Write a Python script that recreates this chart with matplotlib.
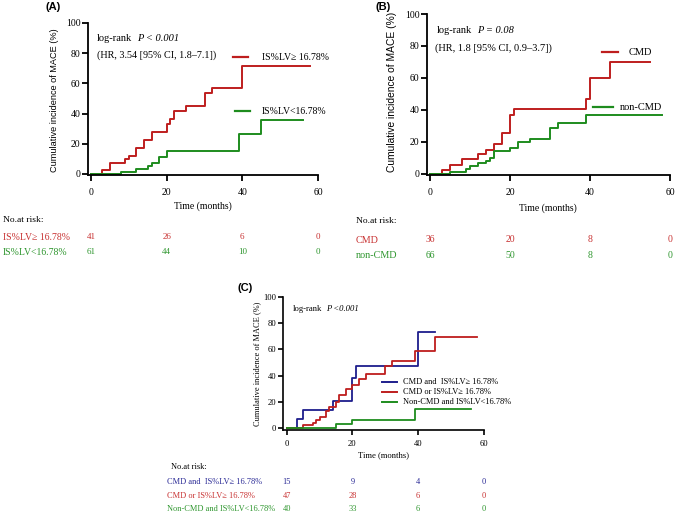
import matplotlib
matplotlib.use('Agg')
import matplotlib.pyplot as plt
from matplotlib.lines import Line2D
import matplotlib.transforms as mtransforms

W, H = 680, 518
SERIF = ['Liberation Serif', 'DejaVu Serif']
SANS = ['Liberation Sans', 'DejaVu Sans']

RED = '#BE1E1E'
GREEN = '#1E8C1E'
BLUE = '#1E1E8C'
RED_T = '#C83232'
GREEN_T = '#2E962E'
BLUE_T = '#2A2A96'

XTICKS = [0, 20, 40, 60]
YTICKS = [0, 20, 40, 60, 80, 100]
RISK_TIMES = [0, 20, 40, 60]

# Panel A
a_high_t = [0, 3, 5, 9, 10, 12, 14, 16, 20, 21, 22, 25, 30, 32, 40, 58]
a_high_v = [0, 2.3, 7.4, 9.8, 12.2, 17.3, 22.3, 27.5, 33.0, 36.3, 41.6, 44.7, 53.6, 57.2, 71.7, 71.7]
a_low_t = [0, 8, 12, 15, 16, 18, 20, 39, 45, 56]
a_low_v = [0, 1.6, 3.4, 5.4, 7.2, 11.2, 15.3, 26.5, 35.8, 35.8]
a_label_high = 'IS%LV\u2265 16.78%'
a_label_low = 'IS%LV<16.78%'
a_risk_high = [41, 26, 6, 0]
a_risk_low = [61, 44, 10, 0]

# Panel B
b_cmd_t = [0, 3, 5, 8, 12, 14, 16, 18, 20, 21, 39, 40, 45, 55]
b_cmd_v = [0, 2.6, 5.9, 9.1, 12.4, 15.3, 18.6, 25.5, 36.9, 40.5, 46.8, 60.0, 70.0, 70.0]
b_non_t = [0, 5, 9, 10, 12, 14, 15, 16, 20, 22, 25, 30, 32, 39, 58]
b_non_v = [0, 1.5, 3.2, 4.8, 6.8, 8.3, 10.0, 14.2, 16.0, 19.7, 21.8, 28.8, 31.7, 37.0, 37.0]
b_label_cmd = 'CMD'
b_label_non = 'non-CMD'
b_risk_cmd = [36, 20, 8, 0]
b_risk_non = [66, 50, 8, 0]

# Panel C
c_both_t = [0, 3, 5, 14, 20, 21, 40, 45]
c_both_v = [0, 6.8, 13.6, 20.7, 38.4, 47.5, 73.5, 73.5]
c_either_t = [0, 5, 8, 9, 10, 12, 13, 15, 16, 18, 20, 22, 24, 30, 32, 39, 45, 58]
c_either_v = [0, 2.3, 4.2, 6.4, 8.5, 12.8, 16.3, 20.0, 25.0, 29.5, 32.6, 37.4, 41.0, 47.5, 51.0, 58.5, 69.5, 69.5]
c_none_t = [0, 15, 20, 39, 56]
c_none_v = [0, 3.0, 6.0, 15.0, 15.0]
c_label_both = 'CMD and  IS%LV\u2265 16.78%'
c_label_either = 'CMD or IS%LV\u2265 16.78%'
c_label_none = 'Non-CMD and IS%LV<16.78%'
c_risk_both = [15, 9, 4, 0]
c_risk_either = [47, 28, 6, 0]
c_risk_none = [40, 33, 6, 0]

fig = plt.figure(figsize=(6.8, 5.18), dpi=100)
fig.patch.set_facecolor('white')


def make_ax(l, t, r, b, xlim, ylim, fs, ticklen, xpad, ypad, lw=1.3):
    ax = fig.add_axes([l / W, 1 - b / H, (r - l) / W, (b - t) / H])
    ax.set_xlim(xlim)
    ax.set_ylim(ylim)
    for s in ['top', 'right']:
        ax.spines[s].set_visible(False)
    for s in ['left', 'bottom']:
        ax.spines[s].set_linewidth(lw)
    ax.set_xticks(XTICKS)
    ax.set_yticks(YTICKS)
    ax.tick_params(direction='out', length=ticklen, width=lw, labelsize=fs)
    ax.tick_params(axis='x', pad=xpad)
    ax.tick_params(axis='y', pad=ypad)
    for lab in ax.get_xticklabels() + ax.get_yticklabels():
        lab.set_family(SERIF)
    ax.patch.set_alpha(0)
    return ax


def ftext(x, y, s, **kw):
    kw.setdefault('va', 'center')
    kw.setdefault('ha', 'left')
    return fig.text(x / W, 1 - y / H, s, **kw)


def legline(x1, x2, y, color, lw=1.6):
    fig.add_artist(Line2D([x1 / W, x2 / W], [1 - y / H] * 2, color=color, lw=lw))


def risk_row(ax, y, counts, color, fs):
    trans = mtransforms.blended_transform_factory(ax.transData, fig.transFigure)
    for t, n in zip(RISK_TIMES, counts):
        ax.text(t, 1 - y / H, str(n), transform=trans, ha='center', va='center',
                color=color, fontsize=fs, family=SERIF, clip_on=False)


# ---------------- Panel A ----------------
axA = make_ax(88, 23, 318, 175, (-0.8, 60), (-0.7, 100), 7, 4.3, 5, 1)
axA.step(a_high_t, a_high_v, where='post', color=RED, lw=1.4, clip_on=False)
axA.step(a_low_t, a_low_v, where='post', color=GREEN, lw=1.4, clip_on=False)
ftext(45, 7.5, '(A)', family=SANS, fontsize=8, fontweight='bold')
ftext(54.3, 100.5, 'Cumulative incidence of MACE (%)', family=SANS, fontsize=6.6,
      rotation=90, ha='center')
tA = ftext(96.7, 38.3, 'log-rank', family=SERIF, fontsize=7.5)
axA.annotate('P < 0.001', xy=(1, 0.5), xycoords=tA, xytext=(4, 0),
             textcoords='offset points', va='center', ha='left',
             family=SERIF, fontsize=7.5, style='italic')
ftext(96.7, 55, '(HR, 3.54 [95% CI, 1.8\u20137.1])', family=SERIF, fontsize=7.3)
legline(233, 248, 57.3, RED)
ftext(261.7, 57.3, a_label_high, family=SERIF, fontsize=7)
legline(235, 250, 111, GREEN)
ftext(261.7, 111, a_label_low, family=SERIF, fontsize=7)
ftext(203, 205.7, 'Time (months)', family=SERIF, fontsize=7, ha='center')
ftext(3, 220, 'No.at risk:', family=SERIF, fontsize=6.8)
ftext(3, 237.3, a_label_high, family=SERIF, fontsize=7, color=RED_T)
ftext(3, 252.3, a_label_low, family=SERIF, fontsize=7, color=GREEN_T)
risk_row(axA, 237.3, a_risk_high, RED_T, 6.5)
risk_row(axA, 252.3, a_risk_low, GREEN_T, 6.5)

# ---------------- Panel B ----------------
axB = make_ax(427, 14, 670, 175, (-0.75, 60), (-0.63, 100), 7, 4.3, 5, 1)
axB.step(b_cmd_t, b_cmd_v, where='post', color=RED, lw=1.4, clip_on=False)
axB.step(b_non_t, b_non_v, where='post', color=GREEN, lw=1.4, clip_on=False)
ftext(375, 6.7, '(B)', family=SANS, fontsize=8, fontweight='bold')
ftext(391.7, 91.7, 'Cumulative incidence of MACE (%)', family=SANS, fontsize=7.4,
      rotation=90, ha='center')
tB = ftext(436.7, 30.7, 'log-rank', family=SERIF, fontsize=7.5)
axB.annotate('P = 0.08', xy=(1, 0.5), xycoords=tB, xytext=(4, 0),
             textcoords='offset points', va='center', ha='left',
             family=SERIF, fontsize=7.5, style='italic')
ftext(435, 48.3, '(HR, 1.8 [95% CI, 0.9\u20133.7])', family=SERIF, fontsize=7.5)
legline(601.7, 618.3, 52.3, RED)
ftext(628.3, 52.3, b_label_cmd, family=SERIF, fontsize=7.5)
legline(593, 613, 107.3, GREEN)
ftext(620, 107.3, b_label_non, family=SERIF, fontsize=7.5)
ftext(548, 207.7, 'Time (months)', family=SERIF, fontsize=7, ha='center')
ftext(356, 221, 'No.at risk:', family=SERIF, fontsize=6.8)
ftext(356, 240.7, b_label_cmd, family=SERIF, fontsize=7.3, color=RED_T)
ftext(356, 256, b_label_non, family=SERIF, fontsize=7.3, color=GREEN_T)
risk_row(axB, 239.5, b_risk_cmd, RED_T, 7)
risk_row(axB, 255, b_risk_non, GREEN_T, 7)

# ---------------- Panel C ----------------
axC = make_ax(283, 296.7, 484, 429.5, (-1.12, 60), (-0.9, 100), 6.2, 3.8, 3.5, 1, lw=1.2)
axC.step(c_both_t, c_both_v, where='post', color=BLUE, lw=1.3, clip_on=False)
axC.step(c_either_t, c_either_v, where='post', color=RED, lw=1.3, clip_on=False)
axC.step(c_none_t, c_none_v, where='post', color=GREEN, lw=1.3, clip_on=False)
ftext(237, 288.3, '(C)', family=SANS, fontsize=8, fontweight='bold')
ftext(256.7, 364, 'Cumulative incidence of MACE (%)', family=SERIF, fontsize=6,
      rotation=90, ha='center')
tC = ftext(292.3, 309.3, 'log-rank', family=SERIF, fontsize=6.2)
axC.annotate('P <0.001', xy=(1, 0.5), xycoords=tC, xytext=(3, 0),
             textcoords='offset points', va='center', ha='left',
             family=SERIF, fontsize=6.2, style='italic')
legline(381.7, 396.7, 382.3, BLUE, 1.4)
ftext(403.3, 382.3, c_label_both, family=SERIF, fontsize=6)
legline(381.7, 396.7, 392.3, RED, 1.4)
ftext(403.3, 392.3, c_label_either, family=SERIF, fontsize=6)
legline(381.7, 396.7, 402.3, GREEN, 1.4)
ftext(403.3, 402.3, c_label_none, family=SERIF, fontsize=6)
ftext(384, 454.7, 'Time (months)', family=SERIF, fontsize=6.2, ha='center')
ftext(170.7, 467.3, 'No.at risk:', family=SERIF, fontsize=6)
ftext(167.3, 482.3, c_label_both, family=SERIF, fontsize=6, color=BLUE_T)
ftext(167.3, 496.3, c_label_either, family=SERIF, fontsize=6, color=RED_T)
ftext(167.3, 509, c_label_none, family=SERIF, fontsize=6, color=GREEN_T)
risk_row(axC, 482.3, c_risk_both, BLUE_T, 6)
risk_row(axC, 496.3, c_risk_either, RED_T, 6)
risk_row(axC, 509, c_risk_none, GREEN_T, 6)

fig.savefig('out.png', dpi=100, facecolor='white')
